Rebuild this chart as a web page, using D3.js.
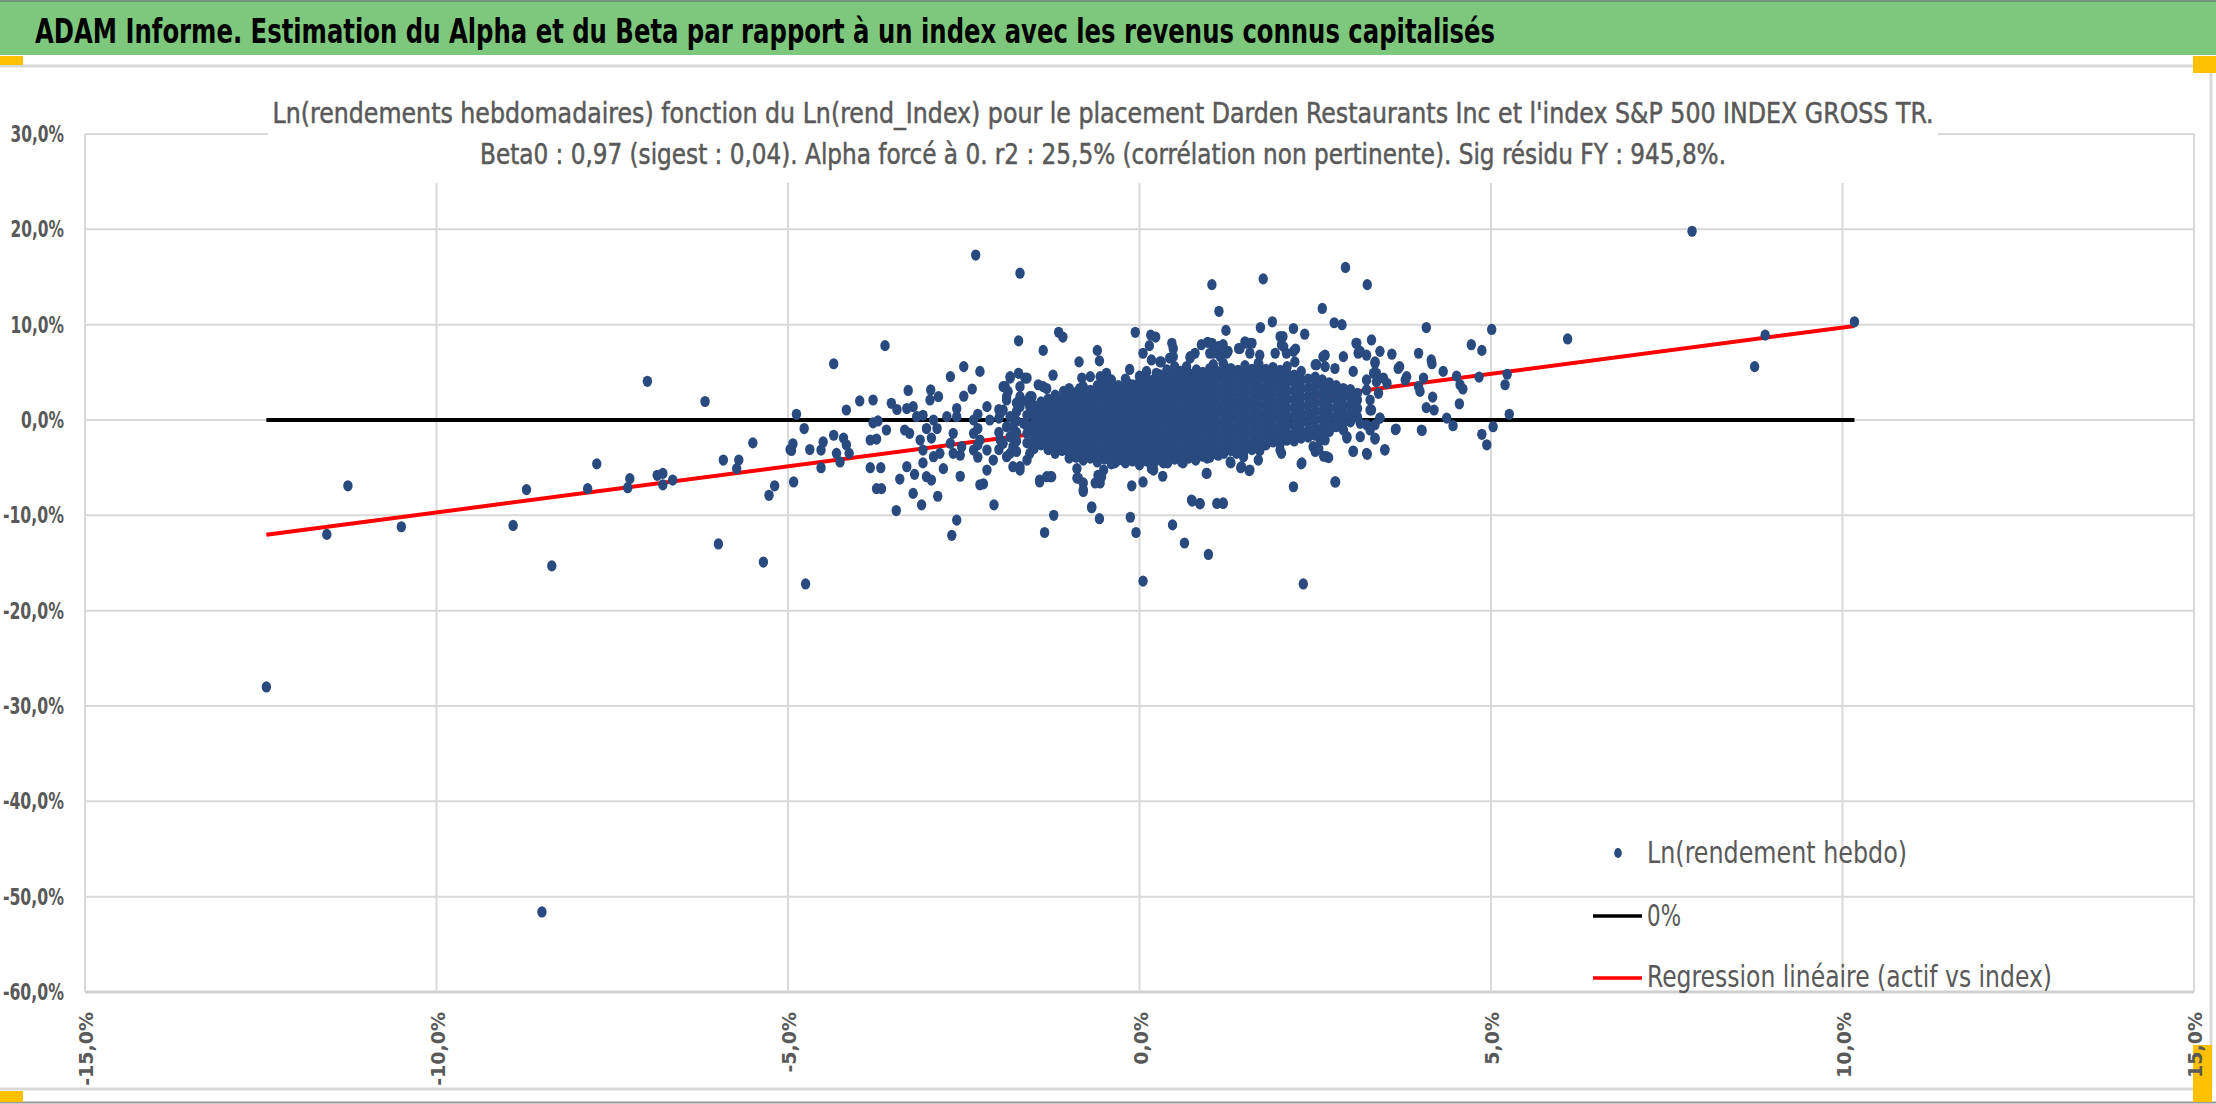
<!DOCTYPE html>
<html>
<head>
<meta charset="utf-8">
<script src="https://cdn.jsdelivr.net/npm/d3@7"></script>
<style>
html, body { margin: 0; padding: 0; background: #fff; }
svg { display: block; }
</style>
</head>
<body>
<svg id="chart" width="2216" height="1104"></svg>
<script>
// TEXTES ----------------------------------------------------
const mainTitle = "ADAM Informe. Estimation du Alpha et du Beta par rapport à un index avec les revenus connus capitalisés";
const chartTitle = [
    "Ln(rendements hebdomadaires) fonction du Ln(rend_Index) pour le placement Darden Restaurants Inc et l'index S&P 500 INDEX GROSS TR.",
    "Beta0 : 0,97 (sigest : 0,04). Alpha forcé à 0. r2 : 25,5% (corrélation non pertinente). Sig résidu FY : 945,8%."
];
const legendLabels = ["Ln(rendement hebdo)", "0%", "Regression linéaire (actif vs index)"];

// AXES ----------------------------------------------------
const xTicks = [-15, -10, -5, 0, 5, 10, 15];
const yTicks = [30, 20, 10, 0, -10, -20, -30, -40, -50, -60];
const beta = 0.97;

// DONNEES : [Ln(rend_Index) %, Ln(rendement hebdo) %] ---------------
const outliers = [
    [-12.42,-28.0],[-8.5,-51.6],[-11.26,-6.9],[-11.56,-12.0],[-10.5,-11.2],[-8.91,-11.06],[-8.72,-7.3],
    [-8.36,-15.3],[-7.85,-7.2],[-7.72,-4.6],[-7.28,-7.1],[-7.25,-6.15],[-7.0,4.06],[-6.18,1.94],
    [-6.86,-5.8],[-6.78,-5.6],[-6.78,-6.8],[-6.64,-6.3],[-5.99,-13.0],[-5.92,-4.2],[-5.7,-4.2],
    [-5.73,-5.1],[-5.5,-2.4],[-5.35,-14.9],[-5.27,-7.9],[-5.19,-6.9],[-4.93,-2.5],[-4.95,-3.2],
    [-4.92,-6.5],[-4.88,0.6],[-4.75,-17.2],[-2.33,17.3],[-1.7,15.4],[-3.62,7.8],[-4.35,5.9],
    [2.93,16.0],[1.76,14.8],[1.03,14.2],[3.24,14.2],[1.13,11.4],[2.6,11.7],[0.05,-16.9],[2.33,-17.2],
    [0.47,-11.0],[0.64,-12.9],[0.98,-14.1],[-2.67,-12.1],[-2.6,-10.5],[-1.35,-11.8],[-1.22,-10.0],
    [-0.57,-10.35],[-0.68,-9.2],[-0.13,-10.2],[-0.05,-11.8],[-3.46,-9.5],[7.86,19.8],[6.09,8.5],
    [8.9,8.9],[8.75,5.6],[10.17,10.3],[5.01,9.5],[4.08,9.7],[5.26,0.6],[5.23,4.8],[5.2,3.7],
    [4.87,-1.5],[4.94,-2.6],[5.03,-0.7]
];

const fringeLeft = [
    [-1.72,8.3],[-1.37,7.3],[-1.15,9.2],[-1.09,8.7],[-0.86,6.1],[-0.6,7.3],[-0.57,6.2],[-0.06,9.2],
    [-4.77,-0.9],[-4.97,-3.1],[-4.69,-3.1],[-4.53,-5.0],[-2.07,-8.9],[-2.27,-6.8],[-2.22,-6.7],
    [-2.55,-5.9],[-2.87,-8.0],[-3.1,-8.9],[-3.22,-7.7],[-3.74,-7.2],[-3.67,-7.2],[-3.41,-6.2],
    [-3.2,-5.7],[-3.31,-4.9],[-3.83,-5.0],[-3.68,-5.0],[-4.26,-4.4],[-4.13,-3.5],[-4.35,-1.6],
    [-4.5,-2.3],[-4.17,1.05],[-3.98,2.0],[-3.79,2.1],[-3.53,1.75],[-3.45,1.1],[-3.6,-1.05],
    [-3.79,-0.3],[-3.72,-0.1],[-3.83,-2.1],[-3.74,-2.0],[-3.29,3.1],[-2.97,3.15],[-2.98,2.1],
    [-2.86,2.45],[-2.69,4.55],[-2.5,5.6],[-2.27,5.1],[-2.38,3.25],[-2.5,2.5],[-3.31,1.2],[-3.22,1.4],
    [-3.17,0.35],[-3.08,0.5],[-3.03,-0.9],[-2.93,0.0],[-2.88,-0.9],[-2.74,0.35],[-2.6,1.2],[-2.6,0.35],
    [-3.34,-1.05],[-3.27,-1.4],[-3.12,-2.1],[-2.96,-1.9],[-3.08,-3.15],[-3.08,-4.5],[-2.93,-3.85],
    [-2.84,-3.5],[-2.79,-5.1],[-3.03,-5.95],[-2.96,-6.3],[-2.65,-1.4],[-2.69,-2.45],[-2.65,-3.5],
    [-2.55,-3.7],[-2.53,-2.8],[-2.36,0.0],[-2.36,-1.4],[-2.27,-2.1],[-2.17,-3.15],[-2.08,-4.2],
    [-2.17,-5.25],[-2.36,-3.15],[-2.17,1.4],[-2.13,0.0],[-1.98,0.7],[-1.89,-0.7],[-1.98,-2.1],
    [-1.8,-1.75],[-1.84,-3.5],[-1.7,-4.9],[-1.8,-4.9],[-1.94,3.5],[-1.84,4.55],[-1.72,4.9],[-1.7,3.5],
    [-1.6,4.4],[-1.89,2.45],[-1.7,2.1],[-1.56,2.45],[-1.44,3.7],[-1.32,3.3],[-1.23,4.7],[-1.42,-6.3],
    [-1.32,-5.95],[-1.25,-5.95],[-0.89,-6.1],[-0.8,-6.6],[-0.8,-7.3],[-0.63,-6.6],[-0.54,-5.95],
    [-0.51,-5.25],[-0.35,-4.5],[-0.11,-6.9],[0.05,-6.5],[0.17,-5.1],[-4.21,-1.9],[-4.17,-2.6],
    [-4.31,-3.5],[-4.53,-3.15]
];

const fringeMid = [
    [0.16,8.9],[0.23,8.7],[0.14,7.8],[0.05,7.0],[0.17,6.3],[0.31,6.1],[0.46,8.05],[0.48,7.5],
    [0.43,6.5],[0.5,5.6],[0.88,7.9],[0.97,8.15],[1.0,7.0],[0.79,7.0],[0.72,6.5],[1.05,5.8],[1.12,7.7],
    [-0.14,5.3],[-0.18,4.0],[-0.47,4.9],[-0.42,4.2],[-0.56,4.55],[-0.7,4.55],[-0.82,4.4],[-0.85,3.3],
    [-1.08,3.0],[-1.37,3.5],[-1.53,2.45],[-1.63,4.4],[-1.84,4.4],[-1.91,3.5],[-1.87,3.0],[0.1,5.1],
    [0.24,4.9],[0.39,5.25],[0.58,5.1],[0.67,5.6],[0.81,5.25],[0.96,4.9],[1.1,4.9],[-1.42,-6.5],
    [-1.27,-5.95],[-0.89,-5.1],[-0.87,-6.1],[-0.8,-7.5],[-0.68,-9.1],[-0.59,-5.8],[-0.56,-6.6],
    [0.33,-5.9],[0.22,-4.2],[0.74,-8.4],[0.86,-8.75],[0.96,-5.6],[1.1,-8.75],[-1.89,-3.85],
    [-1.7,-5.25],[-1.6,-4.2],[-1.56,-3.5],[-1.51,-2.8],[-1.94,-2.45],[-1.8,-2.8],[-1.84,-1.75],
    [-1.94,1.05],[-1.84,0.35],[-1.7,1.4],[-1.8,-0.7],[-1.65,-0.35],[-1.89,2.1],[-1.7,2.45],
    [-1.56,1.4],[-1.46,1.05]
];

const fringeRight = [
    [1.72,9.7],[1.89,10.3],[2.19,9.6],[2.35,9.0],[2.77,10.2],[2.88,10.0],[1.23,9.4],[3.3,8.4],
    [3.09,8.05],[3.11,7.0],[3.23,6.8],[3.42,7.2],[3.59,6.9],[3.97,7.0],[2.04,8.75],[2.02,7.9],
    [2.22,7.45],[1.93,7.0],[1.57,8.05],[1.5,8.2],[1.41,7.5],[1.19,7.9],[1.26,7.2],[1.05,7.0],
    [1.03,8.05],[2.64,6.8],[2.52,5.8],[2.9,6.65],[2.78,5.4],[3.04,5.1],[3.35,6.1],[3.33,4.9],
    [3.37,4.0],[3.47,4.4],[3.52,3.85],[3.68,5.4],[3.8,4.55],[3.97,3.5],[3.99,3.0],[4.04,4.4],
    [3.23,3.15],[3.4,2.8],[3.3,1.05],[3.42,0.2],[3.23,-0.5],[3.35,-1.9],[3.49,-3.15],[3.04,-3.3],
    [3.23,-3.5],[2.95,-1.9],[2.8,-0.7],[2.66,-3.85],[2.57,-2.1],[2.64,-2.1],[2.47,-2.8],[2.31,-4.5],
    [2.19,-7.0],[2.78,-6.5],[2.02,-3.5],[1.71,-3.15],[1.69,-4.2],[1.48,-3.5],[1.45,-4.9],[1.57,-5.25],
    [1.29,-4.4],[1.19,-8.75],[1.12,-3.7],[3.65,-0.95],[4.01,-1.05],[0.29,6.1],[0.48,6.65],[0.72,6.65],
    [1.15,7.7],[1.15,6.65],[1.24,7.0],[1.19,5.95],[1.43,7.5],[1.52,8.05],[1.6,8.05],[1.57,7.0],
    [1.71,6.8],[1.69,5.95],[2.0,8.75],[2.05,7.7],[2.09,7.0],[2.21,6.1],[2.19,7.2],[2.61,6.65],
    [2.5,5.8],[2.64,5.6],[3.08,8.05],[3.14,7.2],[3.35,5.95],[3.7,5.6],[3.78,4.2],[3.28,2.1],
    [3.28,1.05],[3.37,4.9],[3.23,4.2],[0.15,-4.5],[0.2,-5.25],[0.34,-4.5],[0.62,-4.5],[0.96,-4.0],
    [1.38,-3.5],[1.48,-3.85],[2.0,-3.15],[2.09,-2.1],[2.47,0.35],[2.57,-1.05],[2.9,-1.05],[2.95,-1.75],
    [3.14,-0.35],[3.42,0.2],[3.35,-0.5],[3.28,-1.05],[3.14,-1.75],[4.08,1.3],[4.46,-0.6],
    [4.72,7.9],[4.87,7.3],[4.15,6.3],[4.16,5.9],[4.32,5.1],[4.51,4.6],[4.56,3.7],[4.6,3.25],
    [4.83,4.5],[4.55,1.7],[4.17,2.4],[4.19,1.05],[4.37,0.2],[4.02,-1.1],[3.64,-1.0],[3.49,-3.1],
    [3.24,-3.6],[3.04,-3.25],[3.35,-2.0],[2.79,-6.5],[2.3,-4.6],[2.69,-3.95],[2.62,-3.8],[2.5,-3.3],
    [2.55,-3.0],[0.75,-8.5],[0.86,-8.8],[1.19,-8.7],[0.95,-5.6],[1.3,-4.5],[1.44,-5.0],[1.56,-5.3],
    [1.71,-3.2]
];

// noyau dense : pour chaque Ln(rend_Index), les Ln(rendement hebdo) estimés
const coreCols = [
    [-2.3, [-3.9,-2.6,-0.9,0.6]],
    [-2.0, [-3.1,-1.3,0.2,1.1]],
    [-1.75,[-3.3,-2.2,-1.3,-0.1,0.9,1.8]],
    [-1.6, [-2.4,-1.4,-0.6,0.5,2.0]],
    [-1.5, [-3.0,-2.1,-1.2,-0.3,0.6,1.5]],
    [-1.4, [-2.6,-1.7,-0.8,0.1,1.0,1.9]],
    [-1.3, [-3.1,-2.2,-1.3,-0.4,0.5,1.4,2.2]],
    [-1.2, [-3.5,-2.7,-1.8,-0.9,0.0,0.9,1.8,2.6]],
    [-1.1, [-3.2,-2.3,-1.4,-0.5,0.4,1.3,2.2]],
    [-1.0, [-4.0,-3.4,-2.7,-1.9,-1.0,-0.1,0.8,1.7,2.6,3.3]],
    [-0.9, [-3.9,-3.1,-2.3,-1.4,-0.5,0.4,1.3,2.2,2.9]],
    [-0.8, [-4.2,-3.5,-2.7,-1.8,-0.9,0.0,0.9,1.8,2.7,3.5]],
    [-0.7, [-4.0,-3.2,-2.3,-1.4,-0.5,0.4,1.3,2.2,3.1]],
    [-0.6, [-4.4,-3.6,-2.7,-1.8,-0.9,0.0,0.9,1.8,2.7,3.6]],
    [-0.5, [-4.1,-3.3,-2.4,-1.5,-0.6,0.3,1.2,2.1,3.0,3.9]],
    [-0.4, [-4.6,-3.8,-2.9,-2.0,-1.1,-0.2,0.7,1.6,2.5,3.4,4.2]],
    [-0.3, [-4.2,-3.4,-2.5,-1.6,-0.7,0.2,1.1,2.0,2.9,3.6]],
    [-0.2, [-4.5,-3.8,-2.9,-2.0,-1.1,-0.2,0.7,1.6,2.5,3.4,4.3]],
    [-0.1, [-4.3,-3.5,-2.6,-1.7,-0.8,0.1,1.0,1.9,2.8,3.7]],
    [0.0,  [-4.7,-3.9,-3.0,-2.1,-1.2,-0.3,0.6,1.5,2.4,3.3,4.0,4.6]],
    [0.1,  [-4.3,-3.5,-2.6,-1.7,-0.8,0.1,1.0,1.9,2.8,3.7,4.4]],
    [0.2,  [-4.6,-3.8,-2.9,-2.0,-1.1,-0.2,0.7,1.6,2.5,3.4,4.2]],
    [0.3,  [-4.2,-3.4,-2.5,-1.6,-0.7,0.2,1.1,2.0,2.9,3.8,4.7]],
    [0.4,  [-4.5,-3.7,-2.8,-1.9,-1.0,-0.1,0.8,1.7,2.6,3.5,4.3]],
    [0.5,  [-4.1,-3.3,-2.4,-1.5,-0.6,0.3,1.2,2.1,3.0,3.9,4.8]],
    [0.6,  [-4.4,-3.6,-2.7,-1.8,-0.9,0.0,0.9,1.8,2.7,3.6,4.4]],
    [0.7,  [-4.0,-3.2,-2.3,-1.4,-0.5,0.4,1.3,2.2,3.1,4.0,4.9]],
    [0.8,  [-4.2,-3.4,-2.6,-1.7,-0.8,0.1,1.0,1.9,2.8,3.7,4.6]],
    [0.9,  [-3.8,-3.0,-2.2,-1.3,-0.4,0.5,1.4,2.3,3.2,4.1,5.0]],
    [1.0,  [-3.9,-3.2,-2.5,-1.6,-0.7,0.2,1.1,2.0,2.9,3.8,4.7,5.4]],
    [1.1,  [-3.6,-2.9,-2.1,-1.2,-0.3,0.6,1.5,2.4,3.3,4.2,5.1]],
    [1.2,  [-3.5,-2.8,-1.9,-1.0,-0.1,0.8,1.7,2.6,3.5,4.4,5.0,5.7]],
    [1.3,  [-3.2,-2.5,-1.6,-0.7,0.2,1.1,2.0,2.9,3.8,4.6,5.4]],
    [1.4,  [-3.3,-2.6,-1.8,-0.9,0.0,0.9,1.8,2.7,3.6,4.5,5.2]],
    [1.5,  [-3.0,-2.3,-1.4,-0.5,0.4,1.3,2.2,3.1,4.0,4.9,5.7]],
    [1.6,  [-3.1,-2.4,-1.6,-0.7,0.2,1.1,2.0,2.9,3.8,4.6,5.3]],
    [1.7,  [-2.8,-2.1,-1.2,-0.3,0.6,1.5,2.4,3.3,4.2,5.0,5.8]],
    [1.8,  [-2.6,-1.9,-1.0,-0.1,0.8,1.7,2.6,3.5,4.4,5.3]],
    [1.9,  [-2.3,-1.6,-0.7,0.2,1.1,2.0,2.9,3.8,4.7,5.5]],
    [2.0,  [-2.5,-1.8,-0.9,0.0,0.9,1.8,2.7,3.6,4.4,5.2]],
    [2.1,  [-2.1,-1.4,-0.5,0.4,1.3,2.2,3.1,4.0,4.8,5.6]],
    [2.2,  [-2.2,-1.5,-0.6,0.3,1.2,2.1,3.0,3.9,4.7]],
    [2.3,  [-1.9,-1.2,-0.3,0.6,1.5,2.4,3.3,4.2,5.1]],
    [2.4,  [-1.8,-1.1,-0.2,0.7,1.6,2.5,3.4,4.3]],
    [2.5,  [-1.6,-0.9,0.0,0.9,1.8,2.7,3.6,4.5]],
    [2.6,  [-1.5,-0.8,0.1,1.0,1.9,2.8,3.7,4.2]],
    [2.7,  [-1.2,-0.5,0.4,1.3,2.2,3.1,3.9]],
    [2.8,  [-0.6,0.3,1.2,2.1,3.0,3.6]],
    [2.9,  [-0.3,0.6,1.5,2.4,3.3]],
    [3.0,  [-0.2,0.7,1.6,2.5,3.2]],
    [3.1,  [0.3,1.2,2.1,2.8]]
];

// MISE EN PAGE ----------------------------------------------------
const W = 2216, H = 1104;
const plot = { left: 85, right: 2194, top: 134, bottom: 992 };
const grey = "#595959";
const dotColor = "#284a7f";
const narrow = "'Liberation Sans Narrow','DejaVu Sans Condensed','Open Sans',sans-serif";

const svg = d3.select("#chart");

const points = outliers.concat(fringeLeft, fringeMid, fringeRight,
    coreCols.flatMap(([x, ys]) => ys.map(y => [x, y])));

const scX = d3.scaleLinear().domain([-15, 15]).range([plot.left, plot.right]);
const scY = d3.scaleLinear().domain([-60, 30]).range([plot.bottom, plot.top]);

const fmt = v => v.toFixed(1).replace(".", ",") + "%";

// force la largeur d'un texte
let fit = (sel, w) => sel.attr("textLength", w).attr("lengthAdjust", "spacingAndGlyphs");

// largeur d'une étiquette en Liberation Sans Narrow Bold 23px
let tickWidth = s => {
    let w = 0;
    for (const c of s) {
        if (c >= "0" && c <= "9") w += 10.5;
        else if (c === ",") w += 5.2;
        else if (c === "%") w += 16.8;
        else if (c === "-") w += 7.6;
    }
    return w;
};

// EN-TETE ---------------------------------------------------------
svg.append("rect").attr("x", 0).attr("y", 0).attr("width", W).attr("height", 55).attr("fill", "#7dc87d");
svg.append("line").attr("x1", 0).attr("x2", W).attr("y1", 1).attr("y2", 1)
    .attr("stroke", "#74907a").attr("stroke-width", 2);
fit(svg.append("text")
    .attr("x", 35).attr("y", 43)
    .attr("font-family", narrow).attr("font-weight", "bold").attr("font-size", 34)
    .attr("fill", "#000")
    .text(mainTitle), 1460);

// cadre du graphique
svg.append("line").attr("x1", 0).attr("x2", 2212).attr("y1", 66).attr("y2", 66)
    .attr("stroke", "#d9d9d9").attr("stroke-width", 3);
svg.append("line").attr("x1", 2211).attr("x2", 2211).attr("y1", 66).attr("y2", 1089)
    .attr("stroke", "#d9d9d9").attr("stroke-width", 3);
svg.append("line").attr("x1", 0).attr("x2", 2212).attr("y1", 1089).attr("y2", 1089)
    .attr("stroke", "#d9d9d9").attr("stroke-width", 3);
svg.append("line").attr("x1", 0).attr("x2", W).attr("y1", 1102.5).attr("y2", 1102.5)
    .attr("stroke", "#9a9a9a").attr("stroke-width", 2);

// poignées de sélection
const handles = [[0, 56, 23, 9], [2193, 56, 23, 17], [0, 1091, 23, 11], [2193, 1045, 19, 57]];
svg.selectAll(".handle").data(handles).enter().append("rect")
    .attr("x", d => d[0]).attr("y", d => d[1]).attr("width", d => d[2]).attr("height", d => d[3])
    .attr("fill", "#ffc000");

// GRILLE ----------------------------------------------------------
svg.append("g").selectAll("line").data(yTicks).enter().append("line")
    .attr("x1", plot.left).attr("x2", plot.right)
    .attr("y1", d => scY(d)).attr("y2", d => scY(d))
    .attr("stroke", d => d === -60 ? "#d0d0d0" : "#d9d9d9")
    .attr("stroke-width", d => d === -60 ? 3 : 2);

svg.append("g").selectAll("line").data(xTicks).enter().append("line")
    .attr("x1", d => scX(d)).attr("x2", d => scX(d))
    .attr("y1", plot.top).attr("y2", plot.bottom)
    .attr("stroke", "#d9d9d9").attr("stroke-width", 2);

// étiquettes axe Y
svg.append("g").selectAll("text").data(yTicks).enter().append("text")
    .attr("x", 64).attr("y", d => scY(d))
    .attr("text-anchor", "end").attr("dominant-baseline", "central")
    .attr("font-family", narrow).attr("font-weight", "bold").attr("font-size", 23)
    .attr("fill", grey)
    .text(d => fmt(d))
    .each(function(d) { fit(d3.select(this), tickWidth(fmt(d))); });

// étiquettes axe X (verticales)
svg.append("g").selectAll("text").data(xTicks).enter().append("text")
    .attr("transform", d => `translate(${scX(d) + 1}, 1012) rotate(-90)`)
    .attr("text-anchor", "end").attr("dominant-baseline", "central")
    .attr("font-family", "'DejaVu Sans',sans-serif").attr("font-weight", "bold").attr("font-size", 19)
    .attr("fill", grey)
    .text(d => fmt(d));

// TITRE DU GRAPHIQUE ----------------------------------------------
svg.append("rect").attr("x", 268).attr("y", 72).attr("width", 1670).attr("height", 111).attr("fill", "#fff");
const titleLines = [[chartTitle[0], 1103, 123, 1661], [chartTitle[1], 1103, 164, 1246]];
titleLines.forEach(([txt, cx, y, w]) => {
    fit(svg.append("text")
        .attr("x", cx).attr("y", y).attr("text-anchor", "middle")
        .attr("font-family", narrow).attr("font-size", 29)
        .attr("fill", grey).attr("stroke", grey).attr("stroke-width", 0.5)
        .text(txt), w);
});

// SERIES ----------------------------------------------------------
const [xMin, xMax] = d3.extent(points, d => d[0]);

svg.append("line")
    .attr("x1", scX(xMin)).attr("x2", scX(xMax))
    .attr("y1", scY(0)).attr("y2", scY(0))
    .attr("stroke", "#000").attr("stroke-width", 4);

svg.append("line")
    .attr("x1", scX(xMin)).attr("x2", scX(xMax))
    .attr("y1", scY(beta * xMin)).attr("y2", scY(beta * xMax))
    .attr("stroke", "#ff0000").attr("stroke-width", 4);

svg.append("g").selectAll("ellipse").data(points).enter().append("ellipse")
    .attr("cx", d => scX(d[0])).attr("cy", d => scY(d[1]))
    .attr("rx", 4.7).attr("ry", 5.6)
    .attr("fill", dotColor);

// LEGENDE ---------------------------------------------------------
const legend = svg.append("g");
legend.append("ellipse").attr("cx", 1618).attr("cy", 853).attr("rx", 3.8).attr("ry", 5).attr("fill", dotColor);
legend.append("line").attr("x1", 1593).attr("x2", 1642).attr("y1", 916).attr("y2", 916)
    .attr("stroke", "#000").attr("stroke-width", 3.5);
legend.append("line").attr("x1", 1593).attr("x2", 1642).attr("y1", 978).attr("y2", 978)
    .attr("stroke", "#ff0000").attr("stroke-width", 3.5);

const legendRows = [[legendLabels[0], 863, 260], [legendLabels[1], 926, 34], [legendLabels[2], 987, 405]];
legendRows.forEach(([txt, y, w]) => {
    fit(legend.append("text")
        .attr("x", 1647).attr("y", y)
        .attr("font-family", narrow).attr("font-size", 31)
        .attr("fill", grey)
        .text(txt), w);
});
</script>
</body>
</html>
